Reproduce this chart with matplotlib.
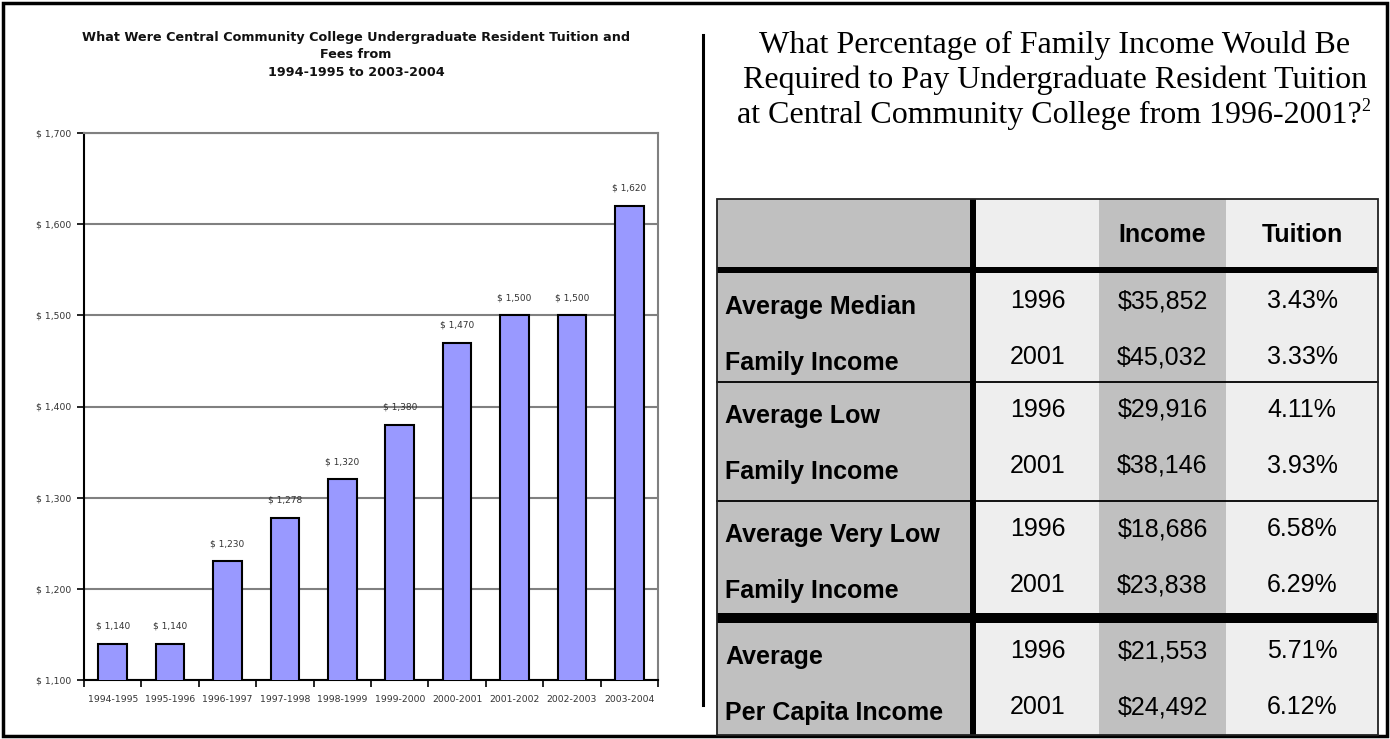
import matplotlib
matplotlib.use("Agg")
import matplotlib.pyplot as plt
from matplotlib.patches import Rectangle
from matplotlib.lines import Line2D

# ---------------- data ----------------
years = ["1994-1995", "1995-1996", "1996-1997", "1997-1998", "1998-1999",
         "1999-2000", "2000-2001", "2001-2002", "2002-2003", "2003-2004"]
tuition = [1140, 1140, 1230, 1278, 1320, 1380, 1470, 1500, 1500, 1620]
y_ticks = [1100, 1200, 1300, 1400, 1500, 1600, 1700]

chart_title = ("What Were Central Community College Undergraduate Resident Tuition and\n"
               "Fees from\n1994-1995 to 2003-2004")
table_title_lines = ["What Percentage of Family Income Would Be",
                     "Required to Pay Undergraduate Resident Tuition",
                     "at Central Community College from 1996-2001?"]
footnote_mark = "2"

header = ["", "", "Income", "Tuition"]
group_labels = [("Average Median", "Family Income"),
                ("Average Low", "Family Income"),
                ("Average Very Low", "Family Income"),
                ("Average", "Per Capita Income")]
row_years = ["1996", "2001"]
incomes = [("$35,852", "$45,032"), ("$29,916", "$38,146"),
           ("$18,686", "$23,838"), ("$21,553", "$24,492")]
pcts = [("3.43%", "3.33%"), ("4.11%", "3.93%"),
        ("6.58%", "6.29%"), ("5.71%", "6.12%")]

# ---------------- figure ----------------
W, H = 1390, 739
fig = plt.figure(figsize=(W / 100, H / 100), dpi=100)
fig.patch.set_facecolor("white")

ov = fig.add_axes([0, 0, 1, 1], zorder=0)
ov.set_xlim(0, W)
ov.set_ylim(H, 0)
ov.axis("off")

ov.add_patch(Rectangle((3, 3), W - 6, H - 6, fill=False, ec="black", lw=2.5))
ov.add_line(Line2D([703, 703], [35, 705], color="black", lw=2.2))

# ---------------- bar chart ----------------
L, R, T, B = 84, 658, 133, 680
ax = fig.add_axes([L / W, 1 - B / H, (R - L) / W, (B - T) / H], zorder=2)
x = list(range(len(years)))
ax.bar(x, tuition, width=0.5, color="#9999FF", edgecolor="black", linewidth=1.5, zorder=3)
ax.set_ylim(y_ticks[0], y_ticks[-1])
ax.set_xlim(-0.5, len(years) - 0.5)
ax.set_yticks(y_ticks)
ax.set_yticklabels([f"$ {v:,}" for v in y_ticks], fontsize=6.7, color="#333333")
ax.set_xticks([i - 0.5 for i in range(len(years) + 1)])
ax.set_xticklabels([])
ax.set_xticks(x, minor=True)
ax.set_xticklabels(years, minor=True, fontsize=6.7, color="#333333")
ax.tick_params(axis="x", which="major", length=5, width=1.2, direction="out", color="black")
ax.tick_params(axis="x", which="minor", length=0, pad=11)
ax.tick_params(axis="y", length=5, width=1.2, direction="out", color="black", pad=4)
ax.yaxis.grid(True, color="#808080", lw=1.5, zorder=0)
ax.set_axisbelow(True)
for s in ["top", "right"]:
    ax.spines[s].set_color("#808080")
    ax.spines[s].set_linewidth(1.5)
for s in ["left", "bottom"]:
    ax.spines[s].set_color("black")
    ax.spines[s].set_linewidth(1.5)
for xi, v in zip(x, tuition):
    ax.annotate(f"$ {v:,}", (xi, v), xytext=(0, 9.5), textcoords="offset points",
                ha="center", va="bottom", fontsize=6.5, color="#333333")

fig.text(356 / W, 1 - 31 / H, chart_title, ha="center", va="top", fontsize=9.2,
         fontweight="bold", linespacing=1.45, color="#111111")

# ---------------- table title ----------------
title_y = [45, 80, 115]
tt = None
for i, line in enumerate(table_title_lines):
    xc = 1055 if i < 2 else 1049
    tt = ov.text(xc, title_y[i], line, ha="center", va="center", fontsize=23,
                 family="Liberation Serif", color="black")
ov.annotate(footnote_mark, xy=(1.0, 0.8), xycoords=tt, ha="left", va="center",
            fontsize=13, family="Liberation Serif", color="black")

# ---------------- table ----------------
col_x = [717, 973, 1099, 1226, 1378]
col_fill = ["#C0C0C0", "#EEEEEE", "#C0C0C0", "#EEEEEE"]
head_top, head_bot = 199, 267
group_top = [273, 382, 501, 623]
group_bot = [382, 501, 613, 735]
row_off = [28, 84]
tfont = "Liberation Sans"
fs = 18

for c in range(4):
    ov.add_patch(Rectangle((col_x[c], head_top), col_x[c + 1] - col_x[c],
                           group_bot[-1] - head_top, fc=col_fill[c], ec="none", zorder=1))
for c, h in enumerate(header):
    if h:
        ov.text((col_x[c] + col_x[c + 1]) / 2, (head_top + head_bot) / 2 + 2, h,
                ha="center", va="center", fontsize=fs, fontweight="bold",
                family=tfont, zorder=3)
ov.add_patch(Rectangle((col_x[0], head_bot), col_x[-1] - col_x[0], group_top[0] - head_bot,
                       fc="black", ec="none", zorder=2))
ov.add_patch(Rectangle((col_x[0], group_bot[2]), col_x[-1] - col_x[0],
                       group_top[3] - group_bot[2], fc="black", ec="none", zorder=2))
ov.add_patch(Rectangle((col_x[1] - 3, head_top), 6, group_bot[-1] - head_top,
                       fc="black", ec="none", zorder=2))
for g in range(1, 3):
    ov.add_line(Line2D([col_x[0], col_x[-1]], [group_top[g], group_top[g]],
                       color="black", lw=1.3, zorder=2))
ov.add_patch(Rectangle((col_x[0], head_top), col_x[-1] - col_x[0], group_bot[-1] - head_top,
                       fill=False, ec="#222222", lw=1.3, zorder=2))

for g in range(4):
    for r in range(2):
        yc = group_top[g] + row_off[r]
        ov.text(col_x[0] + 8, yc + 6, group_labels[g][r], ha="left", va="center",
                fontsize=fs, fontweight="bold", family=tfont, zorder=3)
        ov.text((col_x[1] + col_x[2]) / 2 + 2, yc, row_years[r], ha="center", va="center",
                fontsize=fs, family=tfont, zorder=3)
        ov.text((col_x[2] + col_x[3]) / 2, yc, incomes[g][r], ha="center", va="center",
                fontsize=fs, family=tfont, zorder=3)
        ov.text((col_x[3] + col_x[4]) / 2, yc, pcts[g][r], ha="center", va="center",
                fontsize=fs, family=tfont, zorder=3)

fig.savefig("out.png", dpi=100, facecolor="white")
